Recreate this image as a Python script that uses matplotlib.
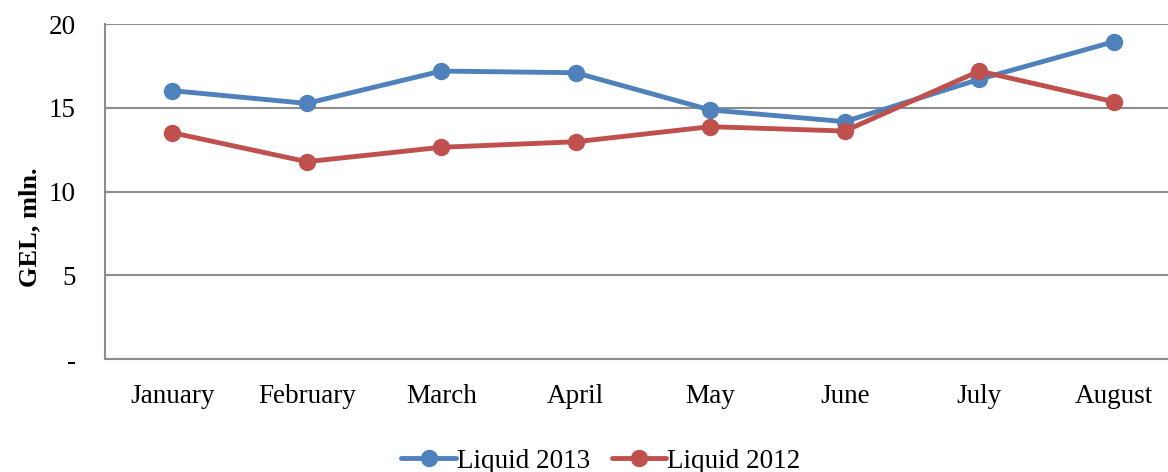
import matplotlib
matplotlib.use("Agg")
import matplotlib.pyplot as plt

months = ["January", "February", "March", "April", "May", "June", "July", "August"]
liquid_2013 = [16.02, 15.26, 17.19, 17.09, 14.87, 14.17, 16.70, 18.94]
liquid_2012 = [13.51, 11.78, 12.64, 12.97, 13.87, 13.61, 17.19, 15.36]
y_ticks = [0, 5, 10, 15, 20]
y_tick_labels = ["-", "5", "10", "15", "20"]

plt.rcParams["font.family"] = ["Liberation Serif", "DejaVu Serif"]

W, H = 1168, 472
fig = plt.figure(figsize=(W / 100, H / 100), dpi=100)
left, right, top, bottom = 105, 1181, 24, 359
ax = fig.add_axes([left / W, (H - bottom) / H, (right - left) / W, (bottom - top) / H])

x = list(range(len(months)))
ax.plot(x, liquid_2013, color="#4F81BD", lw=3.5, marker="o", ms=11.5, label="Liquid 2013",
        solid_capstyle="round", zorder=3)
ax.plot(x, liquid_2012, color="#C0504D", lw=3.5, marker="o", ms=11.5, label="Liquid 2012",
        solid_capstyle="round", zorder=4)

ax.set_xlim(-0.5, len(months) - 0.5)
ax.set_ylim(0, 20)
ax.set_yticks(y_ticks)
ax.set_yticklabels(y_tick_labels)
ax.set_xticks(x)
ax.set_xticklabels(months)
ax.tick_params(axis="both", length=0, labelsize=19.5)
ax.tick_params(axis="y", pad=21)
ax.tick_params(axis="x", pad=18)
ax.yaxis.grid(True, color="#8C8C8C", lw=1.5)
ax.set_axisbelow(True)
for s in ["top", "right"]:
    ax.spines[s].set_visible(False)
for s in ["left", "bottom"]:
    ax.spines[s].set_color("#8C8C8C")
    ax.spines[s].set_linewidth(1.5)

fig.text(30 / W, 1 - 227 / H, "GEL, mln.", rotation=90, fontsize=19, fontweight="bold",
         ha="center", va="center")

fig.legend(loc="center", bbox_to_anchor=(601 / W, 11 / H), ncol=2, frameon=False,
           fontsize=19.5, handlelength=2.0, handletextpad=0.05, columnspacing=0.8,
           borderaxespad=0)

fig.savefig("out.png", dpi=100)
